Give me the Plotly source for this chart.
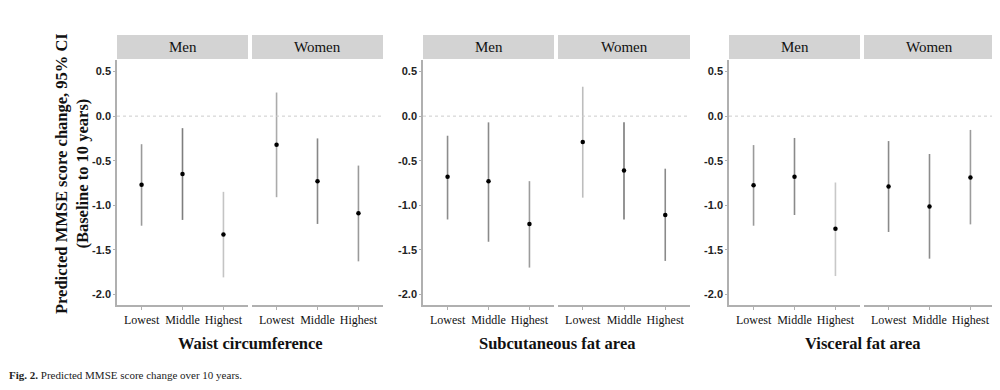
import plotly.graph_objects as go

# ---- data ----
categories = ["Lowest", "Middle", "Highest"]
sexes = ["Men", "Women"]
measures = ["Waist circumference", "Subcutaneous fat area", "Visceral fat area"]

# estimates, lower CI, upper CI  (order: Men L/M/H, Women L/M/H)
waist_est = [-0.77, -0.65, -1.33, -0.32, -0.73, -1.09]
waist_lo = [-1.23, -1.165, -1.81, -0.91, -1.21, -1.63]
waist_hi = [-0.315, -0.135, -0.85, 0.265, -0.25, -0.555]

subq_est = [-0.68, -0.73, -1.21, -0.29, -0.61, -1.11]
subq_lo = [-1.16, -1.41, -1.70, -0.915, -1.16, -1.625]
subq_hi = [-0.22, -0.07, -0.73, 0.33, -0.07, -0.59]

visc_est = [-0.775, -0.68, -1.265, -0.79, -1.015, -0.69]
visc_lo = [-1.23, -1.11, -1.795, -1.30, -1.60, -1.215]
visc_hi = [-0.325, -0.245, -0.745, -0.28, -0.425, -0.155]

# grey shade of each CI line
waist_col = ["#9a9a9a", "#7e7e7e", "#c4c4c4", "#ababab", "#878787", "#9a9a9a"]
subq_col = ["#8c8c8c", "#8a8a8a", "#9c9c9c", "#bdbdbd", "#7a7a7a", "#8a8a8a"]
visc_col = ["#9a9a9a", "#8a8a8a", "#c8c8c8", "#8a8a8a", "#8c8c8c", "#9c9c9c"]

y_ticks = [0.5, 0.0, -0.5, -1.0, -1.5, -2.0]

# ---- layout helpers ----
OFF = 8                     # page body margin of the browser
W, H = 1000 - OFF, 390 - OFF
panel_x = [[(117, 248), (252, 383)],
           [(423, 554), (558, 690)],
           [(729, 860), (864, 995)]]
plot_top, plot_bot = 60, 305
strip_top, strip_bot = 35, 59
SERIF = "Liberation Serif"
SANS = "Liberation Sans"

def px(x):
    return (x - OFF) / W

def py(y):
    return 1 - (y - OFF) / H

fig = go.Figure()
groups = [(waist_est, waist_lo, waist_hi, waist_col),
          (subq_est, subq_lo, subq_hi, subq_col),
          (visc_est, visc_lo, visc_hi, visc_col)]

shapes = []
annotations = []
idx = 0
for g, (est, lo, hi, col) in enumerate(groups):
    for s, sex in enumerate(sexes):
        idx += 1
        xa = "x" if idx == 1 else f"x{idx}"
        ya = "y" if idx == 1 else f"y{idx}"
        for c, cat in enumerate(categories):
            k = s * 3 + c
            fig.add_trace(go.Scatter(
                x=[cat], y=[est[k]], mode="markers",
                marker=dict(color="black", size=4.5),
                error_y=dict(type="data", symmetric=False,
                             array=[hi[k] - est[k]], arrayminus=[est[k] - lo[k]],
                             color=col[k], thickness=1.6, width=0),
                xaxis=xa, yaxis=ya, showlegend=False, hoverinfo="skip"))
        x0, x1 = panel_x[g][s]
        axkey = "xaxis" if idx == 1 else f"xaxis{idx}"
        aykey = "yaxis" if idx == 1 else f"yaxis{idx}"
        fig.layout[axkey] = dict(
            domain=[px(x0), px(x1)], anchor=ya, range=[-0.6, 2.6],
            type="category", categoryorder="array", categoryarray=categories,
            showline=True, linecolor="#b0b0b0", linewidth=1.5,
            ticks="outside", ticklen=3, tickcolor="#b0b0b0",
            tickfont=dict(family=SERIF, size=12, color="#111"),
            showgrid=False, zeroline=False, fixedrange=True)
        fig.layout[aykey] = dict(
            domain=[py(plot_bot), py(plot_top)], anchor=xa, range=[-2.12, 0.63],
            tickvals=y_ticks, ticktext=[f"{v:.1f}" for v in y_ticks],
            showticklabels=(s == 0), showline=(s == 0),
            linecolor="#b0b0b0", linewidth=1.5,
            ticks="outside" if s == 0 else "", ticklen=2, tickcolor="#b0b0b0",
            tickfont=dict(family=SANS, size=11, color="#222", weight="bold"),
            showgrid=False, zeroline=False, fixedrange=True)
        # dotted reference line at 0
        shapes.append(dict(type="line", xref=f"{xa} domain", yref=ya,
                           x0=0, x1=1, y0=0, y1=0,
                           line=dict(color="#cccccc", width=1, dash="dot")))
        # facet strip
        shapes.append(dict(type="rect", xref="paper", yref="paper",
                           x0=px(x0), x1=px(x1), y0=py(strip_bot), y1=py(strip_top),
                           fillcolor="#d3d3d3", line=dict(width=0), layer="below"))
        annotations.append(dict(text=sex, xref="paper", yref="paper",
                                x=px((x0 + x1) / 2), y=py((strip_top + strip_bot) / 2),
                                xanchor="center", yanchor="middle", showarrow=False,
                                font=dict(family=SERIF, size=15, color="#111")))
    # measure title
    gx0 = panel_x[g][0][0]
    gx1 = panel_x[g][1][1]
    annotations.append(dict(text=f"<b>{measures[g]}</b>", xref="paper", yref="paper",
                            x=px((gx0 + gx1) / 2), y=py(343),
                            xanchor="center", yanchor="middle", showarrow=False,
                            font=dict(family=SERIF, size=16.5, color="#111")))

# y axis title
annotations.append(dict(text="<b>Predicted MMSE score change, 95% CI<br>(Baseline to 10 years)</b>",
                        xref="paper", yref="paper", x=px(72), y=py(174),
                        xanchor="center", yanchor="middle", textangle=-90,
                        showarrow=False,
                        font=dict(family=SERIF, size=16.5, color="#111")))
# caption
annotations.append(dict(text="<b>Fig. 2.</b> Predicted MMSE score change over 10 years.",
                        xref="paper", yref="paper", x=px(7), y=py(375),
                        xanchor="left", yanchor="middle", showarrow=False,
                        font=dict(family=SERIF, size=11, color="#222")))

fig.update_layout(width=W, height=H, margin=dict(l=0, r=0, t=0, b=0),
                  paper_bgcolor="white", plot_bgcolor="white",
                  shapes=shapes, annotations=annotations, showlegend=False)

fig.write_html("out.html", config={"displayModeBar": False})
